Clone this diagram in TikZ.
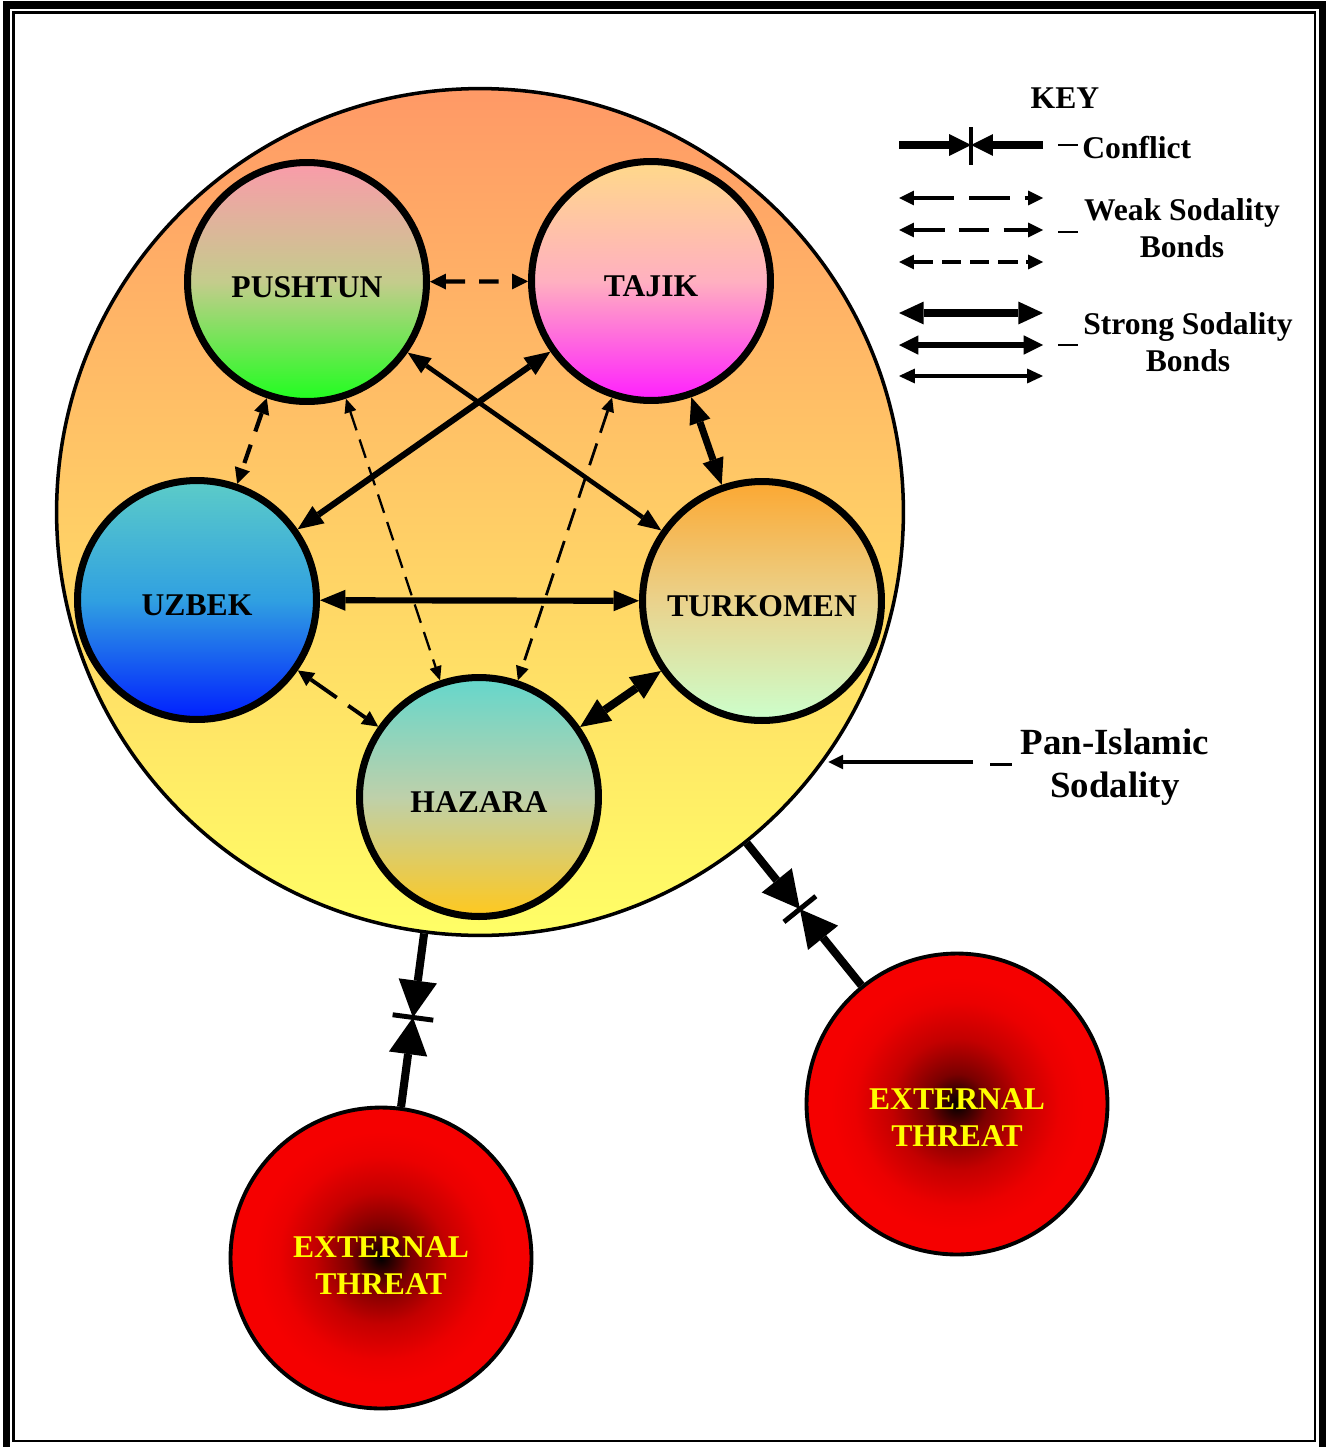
\documentclass[tikz,border=0pt]{standalone}
\usepackage{fontspec}
\setmainfont{Liberation Serif}
\usetikzlibrary{arrows.meta,calc}

\definecolor{panTop}{RGB}{255,153,102}
\definecolor{panBot}{RGB}{255,255,102}
\definecolor{pushTop}{RGB}{250,155,170}
\definecolor{pushMid}{RGB}{196,204,140}
\definecolor{pushBot}{RGB}{30,255,30}
\definecolor{tajTop}{RGB}{255,217,138}
\definecolor{tajMid}{RGB}{255,176,192}
\definecolor{tajBot}{RGB}{255,30,255}
\definecolor{uzbTop}{RGB}{92,204,200}
\definecolor{uzbMid}{RGB}{48,160,225}
\definecolor{uzbBot}{RGB}{0,30,255}
\definecolor{turTop}{RGB}{252,168,50}
\definecolor{turMid}{RGB}{234,210,140}
\definecolor{turBot}{RGB}{204,255,204}
\definecolor{hazTop}{RGB}{100,215,204}
\definecolor{hazMid}{RGB}{190,208,170}
\definecolor{hazBot}{RGB}{255,200,30}
\definecolor{threatText}{RGB}{255,255,0}
\definecolor{threatRed}{RGB}{245,0,0}

% dark core fading out to red
\pgfdeclareradialshading{threatglow}{\pgfpointorigin}{%
  color(0bp)=(black); color(5bp)=(threatRed!50!black); color(11bp)=(threatRed!80!black);
  color(17bp)=(threatRed!96!black); color(21bp)=(threatRed); color(50bp)=(threatRed)}

\tikzset{
  lbl/.style={font=\fontsize{18}{21}\selectfont\bfseries},
  group/.style={circle, draw, line width=4pt, minimum size=4.78cm, inner sep=0pt,
    text height=17.5pt, text depth=0pt, lbl},
  threat/.style={circle, draw, line width=2.2pt, minimum size=6.02cm, inner sep=0pt,
    shading=threatglow, text=threatText, align=center, lbl},
  tipsz/.style 2 args={>={Triangle[length=#1,width=#2,line width=0pt]}},
  strong/.style n args={3}{line width=#1, <->, tipsz={#2}{#3}},
  weak/.style n args={5}{line width=#1, dash pattern=on #2 off #3, <->, tipsz={#4}{#5}},
  conflict/.style={line width=4.6pt, ->, tipsz={21pt}{22pt}},
  keyconflict/.style={line width=4pt, ->, tipsz={12.5pt}{12.5pt}},
  tick/.style={line width=2.8pt},
  leader/.style={line width=1.7pt},
}

\begin{document}
\begin{tikzpicture}[x=0.02cm, y=-0.02cm]
\useasboundingbox (0,0) rectangle (1331,1447);

% double frame
\draw[line width=4pt] (6.5,5) rectangle (1322.5,1450);
\draw[line width=1.4pt] (13.5,12.5) rectangle (1315,1441);

% pan-islamic sodality circle
\node[circle, draw, line width=2pt, minimum size=16.94cm, inner sep=0pt,
      top color=panTop, bottom color=panBot] (pan) at (480,512) {};

% ethnic groups
\node[group, top color=pushTop, bottom color=pushBot, middle color=pushMid] (push) at (307,282) {PUSHTUN};
\node[group, top color=tajTop, bottom color=tajBot, middle color=tajMid] (taj) at (651,281) {TAJIK};
\node[group, top color=uzbTop, bottom color=uzbBot, middle color=uzbMid] (uzb) at (197,600) {UZBEK};
\node[group, top color=turTop, bottom color=turBot, middle color=turMid] (tur) at (762,601) {TURKOMEN};
\node[group, top color=hazTop, bottom color=hazBot, middle color=hazMid] (haz) at (479,797) {HAZARA};

% weak sodality bonds
\draw[weak={2.4pt}{11pt}{8pt}{9pt}{9pt}] (push) -- (taj);
\draw[weak={2.4pt}{11pt}{8pt}{9pt}{9pt}] (push) -- (uzb);
\draw[weak={2.2pt}{18pt}{8pt}{9pt}{9pt}] (uzb) -- (haz);
\draw[weak={1.3pt}{11pt}{5.5pt}{8pt}{7pt}] (push) -- (haz);
\draw[weak={1.6pt}{13pt}{6.5pt}{8pt}{7.5pt}] (taj) -- (haz);

% strong sodality bonds
\draw[strong={2.6pt}{13pt}{10.5pt}] (push) -- (tur);
\draw[strong={3.5pt}{14.5pt}{12pt}] (taj) -- (uzb);
\draw[strong={3.5pt}{14.5pt}{12pt}] (uzb) -- (tur);
\draw[strong={4pt}{15pt}{12.5pt}] (taj) -- (tur);
\draw[strong={4.6pt}{17pt}{15pt}] (tur) -- (haz);

% external threats
\node[threat] (ext1) at (381,1258) {\rule{0pt}{20pt}EXTERNAL\\THREAT};
\node[threat] (ext2) at (957,1104) {\rule{0pt}{27pt}EXTERNAL\\THREAT};

% conflicts
\coordinate (c1) at ($(pan)!10.2cm!(ext1)$);
\coordinate (c2) at ($(pan)!10.2cm!(ext2)$);
\draw[conflict] (pan) -- (c1);
\draw[conflict] (ext1) -- (c1);
\draw[tick] ($(c1)!0.41cm!90:(pan)$) -- ($(c1)!0.41cm!-90:(pan)$);
\draw[conflict] (pan) -- (c2);
\draw[conflict] (ext2) -- (c2);
\draw[tick] ($(c2)!0.41cm!90:(pan)$) -- ($(c2)!0.41cm!-90:(pan)$);

% pan-islamic label
\coordinate (panl) at (973,762);
\draw[line width=2.1pt, ->, tipsz={8.5pt}{8.5pt}] (panl) -- (panl -| pan.-35.9);
\draw[leader] (990,764) -- (1012,764);
\node[font=\fontsize{21}{24.4}\selectfont\bfseries, align=center, anchor=north, inner sep=0pt]
  (panlbl) at (1115,729) {Pan-Islamic\\Sodality};

% key
\node[lbl, anchor=base, inner sep=0pt] (keyt) at (1065,108) {KEY};

\coordinate (kc1) at (899,145);
\coordinate (kcm) at (971,145);
\coordinate (kc2) at (1043,145);
\draw[keyconflict] (kc1) -- (kcm);
\draw[keyconflict] (kc2) -- (kcm);
\draw[line width=2pt] (971,127) -- (971,165);
\draw[leader] (1058,145) -- (1078,145);
\node[lbl, anchor=base west, inner sep=0pt] (kcl) at (1082,158) {Conflict};

\coordinate (kw1a) at (899,198);  \coordinate (kw1b) at (1043,198);
\coordinate (kw2a) at (899,230);  \coordinate (kw2b) at (1043,230);
\coordinate (kw3a) at (899,262);  \coordinate (kw3b) at (1043,262);
\draw[weak={2.6pt}{23pt}{8.5pt}{8.5pt}{8.5pt}] (kw1a) -- (kw1b);
\draw[weak={2.2pt}{17.5pt}{8pt}{8.5pt}{8.5pt}] (kw2a) -- (kw2b);
\draw[weak={1.8pt}{11pt}{5pt}{8.5pt}{8.5pt}] (kw3a) -- (kw3b);
\draw[leader] (1058,232) -- (1078,232);
\node[lbl, align=center, anchor=north, inner sep=0pt] (kwl) at (1182,198) {Weak Sodality\\Bonds};

\coordinate (ks1a) at (899,313);  \coordinate (ks1b) at (1043,313);
\coordinate (ks2a) at (899,345);  \coordinate (ks2b) at (1043,345);
\coordinate (ks3a) at (899,376);  \coordinate (ks3b) at (1043,376);
\draw[strong={4.6pt}{14pt}{13pt}] (ks1a) -- (ks1b);
\draw[strong={3.5pt}{11pt}{11pt}] (ks2a) -- (ks2b);
\draw[strong={2.4pt}{9pt}{8.5pt}] (ks3a) -- (ks3b);
\draw[leader] (1058,345) -- (1078,345);
\node[lbl, align=center, anchor=north, inner sep=0pt] (ksl) at (1188,312) {Strong Sodality\\Bonds};

\end{tikzpicture}
\end{document}
